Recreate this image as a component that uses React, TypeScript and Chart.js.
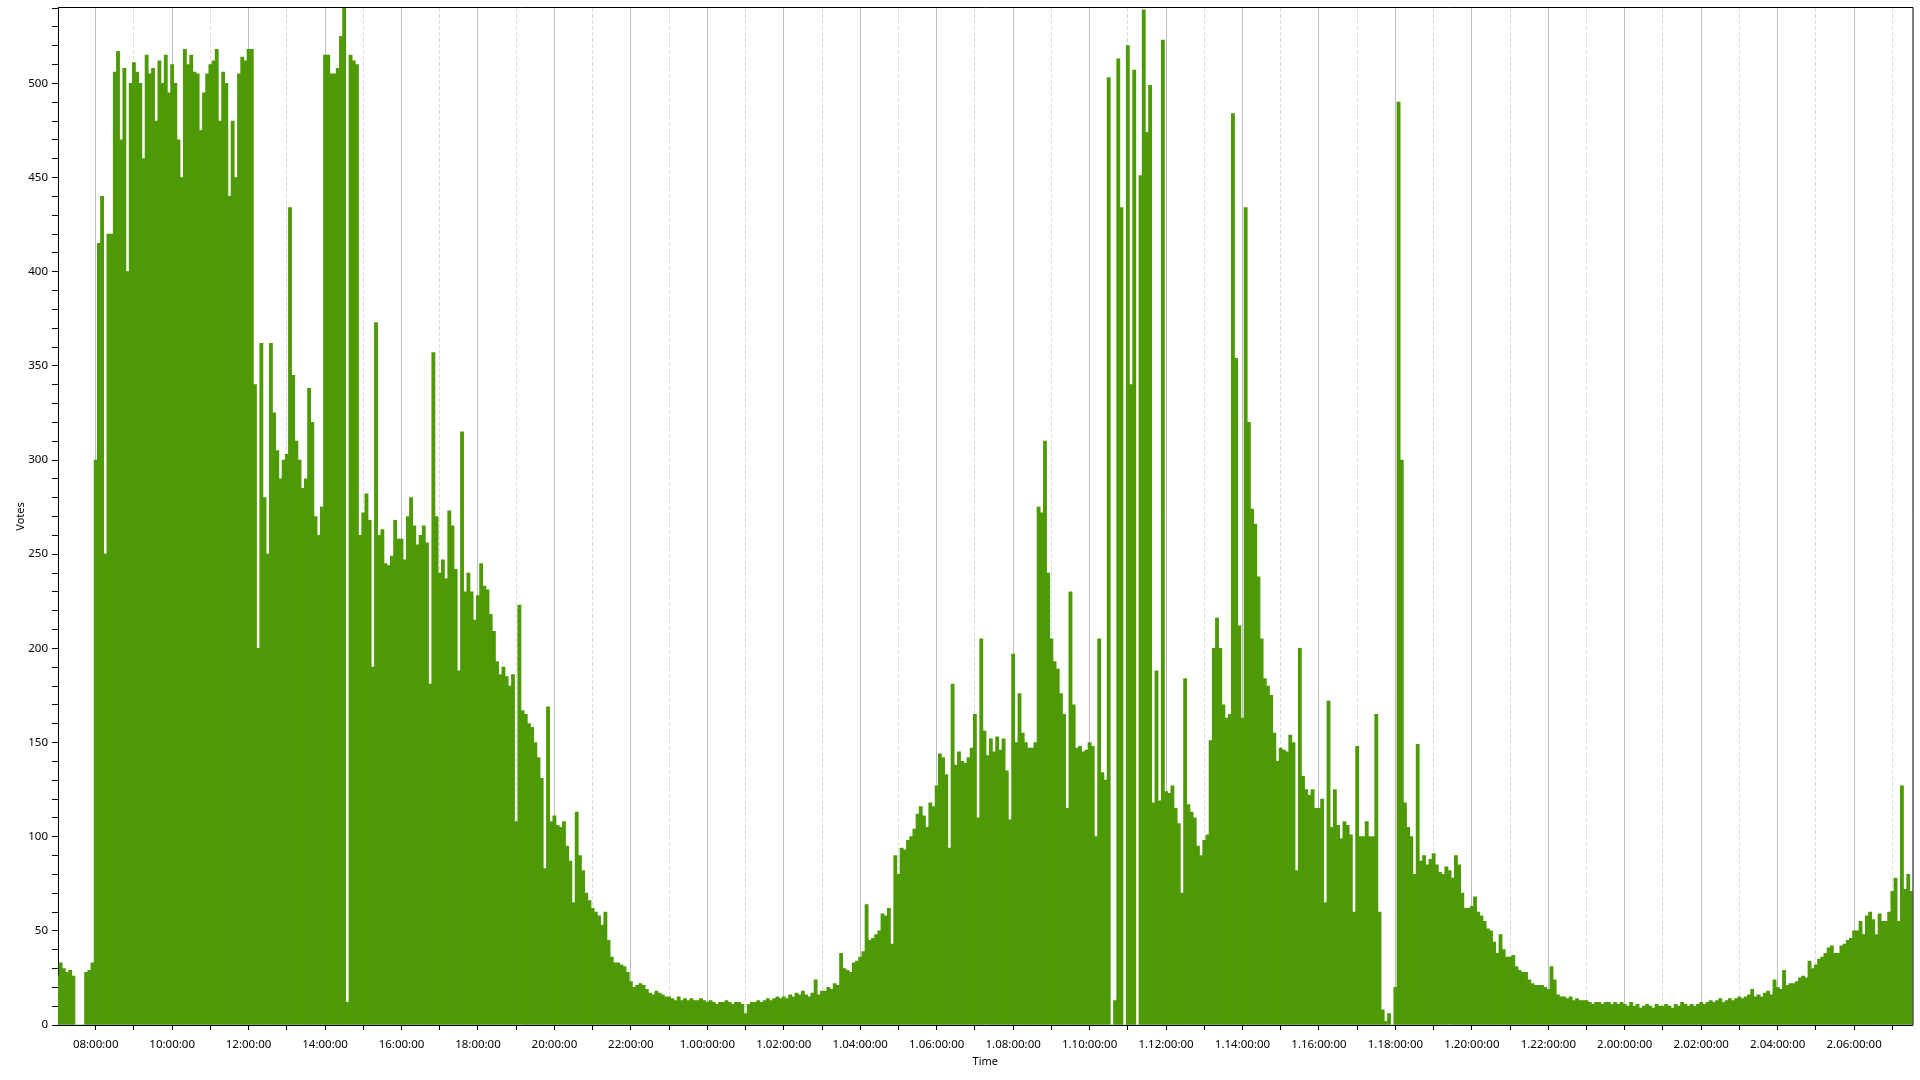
import React, { useEffect, useRef } from 'react';
import { Chart, registerables } from 'chart.js';

Chart.register(...registerables);

// Time axis is expressed in hours since day 0, 00:00 (e.g. 25 = "1.01:00:00").
const START_HOUR = 7;
const STEP_HOURS = 5 / 60; // one bar every 5 minutes

// Votes per 5-minute bin, one row per hour (12 bins per hour)
const votesDay0Morning = [
  26, 33, 30, 28, 29, 26, 0, 0, 0, 28, 29, 33, // 07
  300, 415, 440, 250, 420, 420, 506, 517, 470, 508, 400, 500, // 08
  511, 506, 500, 460, 515, 505, 508, 480, 512, 500, 515, 495, // 09
  510, 500, 470, 450, 518, 510, 515, 506, 505, 475, 495, 505, // 10
  510, 512, 518, 480, 506, 500, 440, 480, 450, 505, 514, 512, // 11
];
const votesDay0Afternoon = [
  518, 518, 340, 200, 362, 280, 250, 362, 325, 305, 290, 300, // 12
  303, 434, 345, 310, 300, 285, 290, 338, 320, 270, 260, 275, // 13
  515, 515, 505, 505, 508, 525, 540, 12, 515, 512, 510, 260, // 14
  272, 282, 268, 190, 373, 260, 263, 245, 244, 249, 268, 258, // 15
  258, 247, 270, 280, 265, 255, 260, 265, 256, 181, 357, 270, // 16
  240, 247, 237, 273, 265, 242, 188, 315, 230, 240, 230, 215, // 17
];
const votesDay0Evening = [
  228, 245, 233, 231, 218, 209, 193, 186, 190, 185, 180, 186, // 18
  108, 223, 167, 165, 160, 158, 150, 142, 131, 83, 169, 108, // 19
  111, 106, 105, 108, 95, 87, 65, 113, 90, 82, 70, 66, // 20
  62, 60, 58, 53, 60, 45, 36, 33, 33, 32, 31, 28, // 21
  23, 20, 21, 22, 21, 19, 17, 16, 18, 17, 16, 15, // 22
  15, 14, 13, 15, 13, 14, 13, 14, 13, 13, 14, 13, // 23
];
const votesDay1Morning = [
  12, 13, 12, 11, 12, 12, 13, 12, 11, 12, 12, 11, // 1.00
  6, 11, 12, 12, 13, 12, 13, 14, 13, 14, 15, 14, // 1.01
  15, 14, 16, 15, 17, 16, 18, 16, 15, 17, 24, 16, // 1.02
  18, 18, 20, 19, 22, 21, 38, 30, 29, 28, 33, 34, // 1.03
  36, 39, 64, 45, 46, 48, 50, 59, 58, 62, 43, 90, // 1.04
  80, 94, 93, 98, 100, 104, 112, 116, 111, 105, 118, 116, // 1.05
];
const votesDay1Midday = [
  127, 144, 142, 133, 94, 181, 138, 145, 140, 139, 142, 147, // 1.06
  165, 110, 205, 156, 143, 152, 145, 153, 146, 152, 135, 109, // 1.07
  197, 150, 176, 155, 150, 147, 147, 150, 275, 272, 310, 240, // 1.08
  205, 193, 189, 176, 165, 115, 230, 170, 147, 148, 145, 146, // 1.09
  150, 148, 100, 205, 134, 130, 503, 0, 13, 513, 434, 0, // 1.10
  520, 340, 507, 0, 451, 539, 474, 499, 118, 188, 119, 523, // 1.11
];
const votesDay1Afternoon = [
  124, 123, 127, 115, 107, 70, 184, 117, 113, 110, 95, 90, // 1.12
  98, 101, 151, 200, 216, 200, 170, 163, 165, 484, 354, 212, // 1.13
  163, 434, 320, 274, 266, 238, 205, 184, 180, 175, 155, 140, // 1.14
  147, 146, 145, 154, 150, 82, 200, 132, 125, 122, 125, 115, // 1.15
  115, 120, 65, 172, 105, 125, 106, 99, 108, 106, 101, 60, // 1.16
  148, 100, 100, 108, 100, 100, 165, 60, 8, 2, 6, 0, // 1.17
];
const votesDay1Evening = [
  20, 490, 300, 118, 105, 100, 80, 149, 87, 90, 85, 88, // 1.18
  91, 85, 81, 80, 84, 82, 78, 90, 85, 70, 62, 62, // 1.19
  63, 68, 60, 58, 55, 51, 50, 44, 38, 48, 40, 36, // 1.20
  36, 37, 31, 29, 28, 28, 24, 22, 21, 21, 21, 20, // 1.21
  19, 31, 24, 16, 15, 15, 14, 15, 13, 14, 13, 13, // 1.22
  13, 12, 11, 12, 12, 11, 12, 12, 11, 12, 11, 12, // 1.23
];
const votesDay2 = [
  11, 10, 12, 10, 11, 9, 10, 11, 10, 9, 11, 10, // 2.00
  10, 11, 10, 9, 11, 10, 12, 11, 10, 11, 10, 11, // 2.01
  12, 11, 12, 13, 12, 13, 14, 12, 13, 14, 13, 14, // 2.02
  15, 14, 15, 16, 19, 15, 16, 15, 17, 18, 16, 24, // 2.03
  20, 19, 29, 21, 22, 22, 23, 25, 26, 25, 34, 30, // 2.04
  32, 35, 36, 38, 41, 42, 38, 38, 42, 43, 45, 46, // 2.05
  50, 50, 55, 48, 58, 60, 56, 48, 59, 55, 55, 60, // 2.06
  71, 78, 55, 127, 72, 80, 71, // 2.07
];

const VOTES = [
  ...votesDay0Morning,
  ...votesDay0Afternoon,
  ...votesDay0Evening,
  ...votesDay1Morning,
  ...votesDay1Midday,
  ...votesDay1Afternoon,
  ...votesDay1Evening,
  ...votesDay2,
];

// Labelled major ticks (every 2 hours, starting at 08:00)
const TIME_LABELS = [
  '08:00:00', '10:00:00', '12:00:00', '14:00:00', '16:00:00', '18:00:00', '20:00:00', '22:00:00',
  '1.00:00:00', '1.02:00:00', '1.04:00:00', '1.06:00:00', '1.08:00:00', '1.10:00:00',
  '1.12:00:00', '1.14:00:00', '1.16:00:00', '1.18:00:00', '1.20:00:00', '1.22:00:00',
  '2.00:00:00', '2.02:00:00', '2.04:00:00', '2.06:00:00',
];
const FIRST_LABEL_HOUR = 8;
const LABEL_STEP_HOURS = 2;

const Y_LABELS = [0, 50, 100, 150, 200, 250, 300, 350, 400, 450, 500];

const X_MIN = 7.014;
const X_MAX = 55.527;
const Y_MAX = 540;

const FONT = 'Noto Sans';
const GREEN = '#4E9A06';

function hourTicks(): number[] {
  const out: number[] = [];
  for (let h = Math.ceil(X_MIN); h <= Math.floor(X_MAX); h++) out.push(h);
  return out;
}

function labelForHour(h: number): string {
  const idx = (h - FIRST_LABEL_HOUR) / LABEL_STEP_HOURS;
  if (Number.isInteger(idx) && idx >= 0 && idx < TIME_LABELS.length) return TIME_LABELS[idx];
  return '';
}

function isMajorHour(h: number): boolean {
  return labelForHour(h) !== '';
}

const framePlugin = {
  id: 'frame',
  afterDraw(chart: any) {
    const { ctx, chartArea } = chart;
    const { left, top, right, bottom } = chartArea;
    ctx.save();
    ctx.strokeStyle = '#000';
    ctx.lineWidth = 1;
    ctx.beginPath();
    ctx.moveTo(left, top - 0.5);
    ctx.lineTo(right + 0.5, top - 0.5);
    ctx.lineTo(right + 0.5, bottom);
    ctx.stroke();
    ctx.restore();
  },
};

export default function App() {
  const canvasRef = useRef<HTMLCanvasElement | null>(null);

  useEffect(() => {
    const canvas = canvasRef.current;
    if (!canvas) return;
    const points = VOTES.map((v, i) => ({ x: START_HOUR + i * STEP_HOURS, y: v }));

    const chart = new Chart(canvas, {
      type: 'bar',
      data: {
        datasets: [
          {
            label: 'Votes',
            data: points as any,
            backgroundColor: GREEN,
            borderWidth: 0,
            barPercentage: 1,
            categoryPercentage: 1,
          },
        ],
      },
      options: {
        animation: false,
        responsive: false,
        maintainAspectRatio: false,
        devicePixelRatio: 1,
        layout: { padding: { left: 0, top: 8, right: 7.5, bottom: 0 } },
        plugins: {
          legend: { display: false },
          tooltip: { enabled: false },
        },
        scales: {
          x: {
            type: 'linear',
            min: X_MIN,
            max: X_MAX,
            offset: false,
            afterBuildTicks: (scale: any) => {
              scale.ticks = hourTicks().map((v) => ({ value: v }));
            },
            afterFit: (scale: any) => {
              scale.height = 55;
              scale.paddingLeft = 0;
              scale.paddingRight = 0;
            },
            ticks: {
              autoSkip: false,
              maxRotation: 0,
              minRotation: 0,
              padding: 8,
              color: '#000',
              font: { family: FONT, size: 11.5 },
              callback: (value: any) => labelForHour(Number(value)),
            },
            grid: {
              display: true,
              offset: false,
              drawOnChartArea: true,
              color: (ctx: any) =>
                ctx.tick && isMajorHour(ctx.tick.value) ? '#bdbdbd' : '#dcdcdc',
              lineWidth: 1,
              tickLength: 5,
              tickColor: '#000',
              tickWidth: 1,
            },
            border: {
              display: true,
              color: '#000',
              width: 1,
              dash: (ctx: any) =>
                ctx.tick && !isMajorHour(ctx.tick.value) ? [4, 2] : [],
            } as any,
            title: {
              display: true,
              text: 'Time',
              color: '#000',
              font: { family: FONT, size: 11 },
              padding: { top: 0, bottom: 12 },
            },
          },
          y: {
            type: 'linear',
            min: 0,
            max: Y_MAX,
            afterBuildTicks: (scale: any) => {
              const t: { value: number }[] = [];
              for (let v = 0; v <= Y_MAX; v += 10) t.push({ value: v });
              scale.ticks = t;
            },
            afterFit: (scale: any) => {
              scale.width = 58;
              scale.paddingTop = 0;
              scale.paddingBottom = 0;
            },
            ticks: {
              autoSkip: false,
              padding: 4,
              color: '#000',
              font: { family: FONT, size: 11.5 },
              callback: (value: any) =>
                Y_LABELS.includes(Number(value)) ? String(value) : '',
            },
            grid: {
              display: true,
              offset: false,
              drawOnChartArea: false,
              tickLength: 6,
              tickColor: '#000',
              tickWidth: 1,
            },
            border: { display: true, color: '#000', width: 1 },
            title: {
              display: true,
              text: 'Votes',
              color: '#000',
              font: { family: FONT, size: 11 },
              padding: { top: 14, bottom: 0 },
            },
          },
        },
      },
      plugins: [framePlugin],
    });

    return () => chart.destroy();
  }, []);

  return (
    <div
      style={{
        position: 'fixed',
        left: 0,
        top: 0,
        width: 1920,
        height: 1080,
        background: '#fff',
      }}
    >
      <canvas ref={canvasRef} width={1920} height={1080} style={{ display: 'block' }} />
    </div>
  );
}
